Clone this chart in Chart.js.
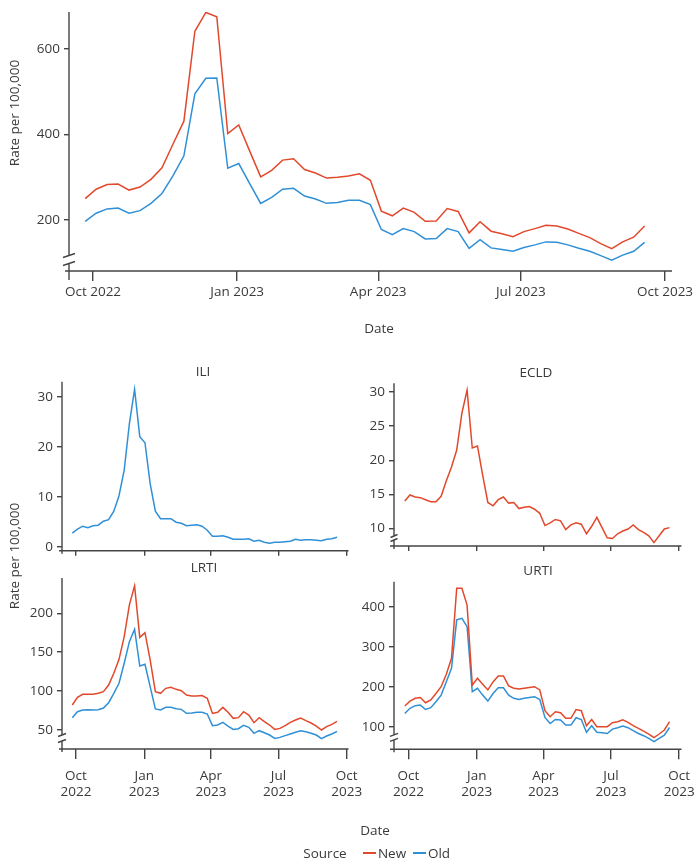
<!DOCTYPE html>
<html>
<head>
<meta charset="utf-8">
<script src="https://cdn.jsdelivr.net/npm/chart.js@4.4.1/dist/chart.umd.min.js"></script>
<style>
  body { margin: 0; background: #fff; }
  #wrap { position: relative; width: 700px; height: 863px; font-family: 'Open Sans', sans-serif; color: #3a3a3a; }
  canvas { position: absolute; left: 0; top: 0; }
  .t { position: absolute; font-size: 13.5px; white-space: nowrap; transform: translate(-50%, -50%); }
  .rot { transform: translate(-50%, -50%) rotate(-90deg); }
  .key { position: absolute; height: 1.6px; width: 13px; }
</style>
</head>
<body>
<div id="wrap">
  <canvas id="all" width="700" height="863"></canvas>
  <canvas id="ili" width="700" height="863"></canvas>
  <canvas id="ecld" width="700" height="863"></canvas>
  <canvas id="lrti" width="700" height="863"></canvas>
  <canvas id="urti" width="700" height="863"></canvas>

  <div class="t rot" style="left:14px;top:113px">Rate per 100,000</div>
  <div class="t" style="left:379px;top:328px">Date</div>
  <div class="t" style="left:203px;top:371px">ILI</div>
  <div class="t" style="left:536px;top:372px">ECLD</div>
  <div class="t" style="left:204px;top:567px">LRTI</div>
  <div class="t" style="left:538px;top:570px">URTI</div>
  <div class="t rot" style="left:14px;top:556px">Rate per 100,000</div>
  <div class="t" style="left:375px;top:830px">Date</div>
  <div class="t" style="left:325px;top:853px">Source</div>
  <div class="key" style="left:363px;top:852px;background:#e2492c"></div>
  <div class="t" style="left:392px;top:853px">New</div>
  <div class="key" style="left:413px;top:852px;background:#3090d6"></div>
  <div class="t" style="left:439px;top:853px">Old</div>
</div>
<script>
// weekly dates (week start)
const weeks = ['2022-09-26','2022-10-03','2022-10-10','2022-10-17','2022-10-24','2022-10-31',
  '2022-11-07','2022-11-14','2022-11-21','2022-11-28','2022-12-05','2022-12-12','2022-12-19','2022-12-26',
  '2023-01-02','2023-01-09','2023-01-16','2023-01-23','2023-01-30','2023-02-06','2023-02-13','2023-02-20',
  '2023-02-27','2023-03-06','2023-03-13','2023-03-20','2023-03-27','2023-04-03','2023-04-10','2023-04-17',
  '2023-04-24','2023-05-01','2023-05-08','2023-05-15','2023-05-22','2023-05-29','2023-06-05','2023-06-12',
  '2023-06-19','2023-06-26','2023-07-03','2023-07-10','2023-07-17','2023-07-24','2023-07-31','2023-08-07',
  '2023-08-14','2023-08-21','2023-08-28','2023-09-04','2023-09-11','2023-09-18'];

const allNew = [250,272,283,284,270,277,295,322,377,431, 641,685,675,402,422,361,301,316,340,343,
  318,310,298,300,303,308,293,221,210,228, 218,197,198,227,220,170,196,174,168,161,
  173,180,188,186,179,169,159,145,133,149, 160,186];
const allOld = [197,216,226,228,216,222,239,262,303,350, 495,531,532,321,332,285,239,253,272,274,
  256,249,239,241,246,246,236,178,166,180, 173,156,157,180,173,134,154,135,131,127,
  136,142,149,148,142,134,127,117,106,118, 127,148];

const iliOld = [2.7,3.5,4.1,3.8,4.2,4.3,5.1,5.4,7.1,10.2, 15.3,24.6,31.5,22.0,20.8,12.6,7.1,5.6,5.6,5.6,
  4.9,4.7,4.2,4.3,4.4,4.1,3.3,2.1,2.1,2.2, 1.9,1.5,1.5,1.5,1.6,1.1,1.3,0.9,0.7,0.9,
  0.9,1.0,1.1,1.5,1.3,1.4,1.4,1.3,1.2,1.5, 1.6,1.9];

const ecldNew = [14.0,14.9,14.6,14.5,14.2,13.9,13.9,14.7,17.0,19.0, 21.5,26.9,30.3,21.8,22.1,17.8,13.8,13.3,14.2,14.6,
  13.7,13.8,12.9,13.1,13.2,12.8,12.2,10.4,10.8,11.3, 11.1,9.8,10.5,10.8,10.6,9.2,10.3,11.6,10.1,8.6,
  8.5,9.2,9.6,9.9,10.5,9.8,9.4,8.9,7.9,8.9, 9.9,10.1];

const lrtiNew = [81.8,91.7,95.6,95.6,95.6,96.9,99.0,107.6,122.7,140.7, 170,210.8,235.3,169,175,140,99,96.9,103.3,104.6,
  102,100.3,94.7,93.4,93.4,93.9,90.4,71,72.4,78.8, 72.4,64.6,65.5,73.2,68.9,59,65.5,60.3,56,50.4,
  51.7,55.2,59.5,62.5,65,61.6,58.6,54.7,49.6,53.9, 56.9,60.7];
const lrtiOld = [65.5,73.2,75.4,75.8,75.4,75.8,77.9,84.8,96.9,109.8, 135.6,163.5,179.4,132.1,134.3,105.5,76.7,75.4,78.8,78.8,
  77.1,76.2,71.1,71.5,72.4,72.4,70.2,55.2,56,59.5, 54.7,50.4,51.3,55.6,53,45.3,48.7,46.1,43.1,38.8,
  40.1,42.3,44.4,46.6,48.7,47.4,45.3,43.1,38.4,41.8, 44.4,47.9];

const urtiNew = [151.7,164,171,173,160,167,183,200,231,271, 446,446,404,204,221,206,192,212,227,227,
  202,196,194,196,198,200,192,140,125,137.5, 135,121,121,143,140,102.5,118,100,100,100,
  110,112.5,117,111,102.5,96,89,81.7,72.5,81.7, 91.7,112.5];
const urtiOld = [133,146,152.5,154,143,147.5,162.5,179,212.5,246, 367,371,350,187.5,196,179,164,183,197.5,197.5,
  179,171,168,171,173,175,168,123,108,118, 117,104,104,122.5,118,86,102.5,86,85,83,
  94,97.5,101.7,97.5,90,83,77.5,71,62.5,71, 79,98];

const tickDates = ['2022-10-01','2023-01-01','2023-04-01','2023-07-01','2023-10-01'];
const tickLabels = ['Oct 2022','Jan 2023','Apr 2023','Jul 2023','Oct 2023'];

const RED = '#e2492c', BLUE = '#3090d6', AXIS = '#444';
Chart.defaults.font.family = "'Open Sans', sans-serif";
Chart.defaults.font.size = 13.5;
Chart.defaults.color = '#3a3a3a';

const day0 = Date.parse('2022-10-01');
const day = s => (Date.parse(s) - day0) / 864e5;
const series = vals => weeks.map((w, i) => ({ x: day(w), y: vals[i] }));

// axis lines with optional break on the y axis
const axisLines = {
  id: 'axisLines',
  afterDraw(chart, args, o) {
    const a = chart.chartArea, ctx = chart.ctx, x = a.left;
    ctx.save();
    ctx.strokeStyle = AXIS;
    ctx.lineWidth = 1.4;
    ctx.beginPath();
    ctx.moveTo(a.left - o.xl, a.bottom); ctx.lineTo(a.right, a.bottom);
    if (o.brk) {
      const c = a.bottom - o.brk.at, g = o.brk.gap / 2;
      ctx.moveTo(x, a.top); ctx.lineTo(x, c - g);
      ctx.moveTo(x, c + g); ctx.lineTo(x, a.bottom + o.yl);
      const w = o.brk.w, s = o.brk.s;
      ctx.moveTo(x - w, c - g + s); ctx.lineTo(x + w, c - g - s);
      ctx.moveTo(x - w, c + g + s); ctx.lineTo(x + w, c + g - s);
    } else {
      ctx.moveTo(x, a.top); ctx.lineTo(x, a.bottom + o.yl);
    }
    ctx.stroke();
    ctx.restore();
  }
};

function panel(id, p) {
  const xmin = -(p.oct - p.left) / p.ppd;
  const xmax = (p.right - p.oct) / p.ppd;
  const datasets = p.sets.map(s => ({
    data: series(s.vals), borderColor: s.color, borderWidth: 1.5,
    pointRadius: 0, tension: 0, fill: false
  }));
  new Chart(document.getElementById(id), {
    type: 'line',
    data: { datasets },
    plugins: [axisLines],
    options: {
      responsive: false, animation: false, devicePixelRatio: 1,
      layout: { padding: { left: 0, top: p.top, right: 700 - p.right, bottom: 0 } },
      plugins: {
        legend: { display: false }, tooltip: { enabled: false },
        axisLines: { brk: p.brk, xl: p.xl, yl: p.yl }
      },
      scales: {
        x: {
          type: 'linear', min: xmin, max: xmax,
          afterBuildTicks: s => { s.ticks = tickDates.map(d => ({ value: day(d) })); },
          afterFit: s => { s.height = 863 - p.bottom; s.paddingLeft = 0; s.paddingRight = 0; },
          grid: { drawOnChartArea: false, tickLength: p.xtick, color: AXIS, lineWidth: 1.4 },
          border: { display: false },
          ticks: {
            display: p.xlab !== 'none', autoSkip: false, maxRotation: 0, padding: p.xpad,
            callback: (v, i) => p.xlab === 'split' ? tickLabels[i].split(' ') : tickLabels[i]
          }
        },
        y: {
          min: p.ymin, max: p.ymax,
          afterBuildTicks: s => { s.ticks = p.yticks.map(v => ({ value: v })); },
          afterFit: s => { s.width = p.left; s.paddingTop = 0; s.paddingBottom = 0; },
          grid: { drawOnChartArea: false, tickLength: 5, color: AXIS, lineWidth: 1.4 },
          border: { display: false },
          ticks: { padding: 4, callback: v => v }
        }
      }
    }
  });
}

panel('all', {
  left: 69, right: 672, top: 12, bottom: 271, oct: 93, ppd: 572 / 365,
  ymin: 81, ymax: 686, yticks: [200, 400, 600],
  xtick: 10, xpad: 3, xlab: 'single', xl: 4, yl: 9,
  brk: { at: 11.5, gap: 8, w: 6, s: 2 },
  sets: [{ vals: allNew, color: RED }, { vals: allOld, color: BLUE }]
});
panel('ili', {
  left: 62, right: 348.5, top: 381.7, bottom: 550.7, oct: 76, ppd: 0.7416,
  ymin: -0.8, ymax: 33, yticks: [0, 10, 20, 30],
  xtick: 5, xpad: 3, xlab: 'none', xl: 3, yl: 3,
  brk: null,
  sets: [{ vals: iliOld, color: BLUE }]
});
panel('ecld', {
  left: 394, right: 681.5, top: 383.3, bottom: 546, oct: 408.5, ppd: 0.7416,
  ymin: 7.4, ymax: 31.3, yticks: [10, 15, 20, 25, 30],
  xtick: 5, xpad: 3, xlab: 'none', xl: 4, yl: 3,
  brk: { at: 8, gap: 4, w: 3.5, s: 1.5 },
  sets: [{ vals: ecldNew, color: RED }]
});
panel('lrti', {
  left: 62, right: 348.5, top: 578, bottom: 749, oct: 76, ppd: 0.7416,
  ymin: 25.1, ymax: 245.5, yticks: [50, 100, 150, 200],
  xtick: 10, xpad: 9, xlab: 'split', xl: 3, yl: 3,
  brk: { at: 11, gap: 6, w: 4, s: 1.5 },
  sets: [{ vals: lrtiNew, color: RED }, { vals: lrtiOld, color: BLUE }]
});
panel('urti', {
  left: 394, right: 681.5, top: 581.7, bottom: 749.3, oct: 408.5, ppd: 0.7416,
  ymin: 43.5, ymax: 462.5, yticks: [100, 200, 300, 400],
  xtick: 10, xpad: 9, xlab: 'split', xl: 4, yl: 3,
  brk: { at: 12, gap: 5, w: 4, s: 1.5 },
  sets: [{ vals: urtiNew, color: RED }, { vals: urtiOld, color: BLUE }]
});
</script>
</body>
</html>
